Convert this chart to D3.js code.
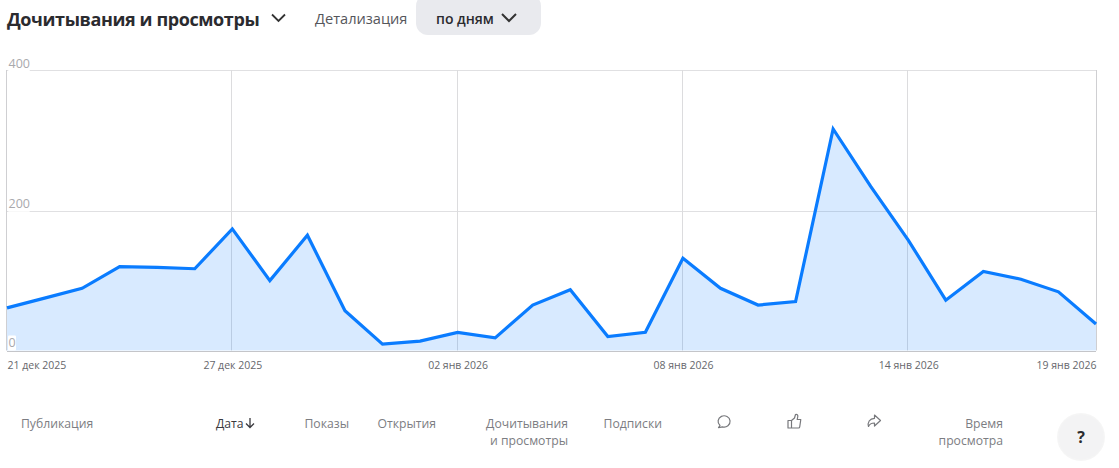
<!DOCTYPE html>
<html lang="ru">
<head>
<meta charset="utf-8">
<script src="https://cdn.jsdelivr.net/npm/d3@7"></script>
<style>
  html, body { margin: 0; background: #fff; }
  svg { display: block; font-family: "Open Sans", "Noto Sans", sans-serif; }
  .hdr { fill: #7c7d82; font-size: 12.2px; }
</style>
</head>
<body>
<svg id="chart" width="1119" height="468"></svg>
<script>
const dates = ["2025-12-21","2025-12-22","2025-12-23","2025-12-24","2025-12-25","2025-12-26","2025-12-27","2025-12-28","2025-12-29","2025-12-30",
  "2025-12-31","2026-01-01","2026-01-02","2026-01-03","2026-01-04","2026-01-05","2026-01-06","2026-01-07","2026-01-08","2026-01-09",
  "2026-01-10","2026-01-11","2026-01-12","2026-01-13","2026-01-14","2026-01-15","2026-01-16","2026-01-17","2026-01-18","2026-01-19"];
const values = [61,75,89,120,119,117,174,100,165,57,9,13.5,26,18,65,87,20,26,132,89,65,70,317,235,158,72,113,102,84,38];
const yTicks = [0,200,400];
const xTicks = ["2025-12-21","2025-12-27","2026-01-02","2026-01-08","2026-01-14","2026-01-19"];
const months = ["янв","фев","мар","апр","май","июн","июл","авг","сен","окт","ноя","дек"];
const columns = [
  {lines:["Публикация"], x:21, anchor:"start"},
  {lines:["Показы"], x:349, anchor:"end"},
  {lines:["Открытия"], x:436, anchor:"end"},
  {lines:["Дочитывания","и просмотры"], x:568, anchor:"end"},
  {lines:["Подписки"], x:662, anchor:"end"},
  {lines:["Время","просмотра"], x:1003, anchor:"end"}
];

const parse = d3.utcParse("%Y-%m-%d");
const fmtDate = d => d3.utcFormat("%d")(d) + " " + months[d.getUTCMonth()] + " " + d.getUTCFullYear();
const points = dates.map((d, i) => ({date: parse(d), value: values[i]}));

const svg = d3.select("#chart");
const left = 7, right = 1096, top_ = 71, bottom = 350.5;

const x = d3.scaleUtc().domain(d3.extent(points, d => d.date)).range([left, right]);
const y = d3.scaleLinear().domain([0, 400]).range([bottom, top_]);

// header
svg.append("text").attr("x", 7).attr("y", 25.5)
  .attr("font-size", 18).attr("font-weight", 700).attr("fill", "#2b2b2f").attr("letter-spacing", -0.4)
  .text("Дочитывания и просмотры");
svg.append("path").attr("d", "M272 14.5l6.5 6.5 6.5-6.5")
  .attr("fill", "none").attr("stroke", "#333").attr("stroke-width", 1.8);
svg.append("text").attr("x", 315).attr("y", 23.5).attr("font-size", 14.6).attr("fill", "#55565b").text("Детализация");
svg.append("rect").attr("x", 416).attr("y", -6).attr("width", 125).attr("height", 41).attr("rx", 12).attr("fill", "#e9eaee");
svg.append("text").attr("x", 436).attr("y", 23.5).attr("font-size", 14).attr("font-weight", 600).attr("fill", "#2b2b2f").text("по дням");
svg.append("path").attr("d", "M502 14l7 7 7-7")
  .attr("fill", "none").attr("stroke", "#333").attr("stroke-width", 2);

// grid
const grid = svg.append("g");
grid.selectAll("line.h").data(yTicks).join("line").attr("class", "h")
  .attr("x1", left).attr("x2", right)
  .attr("y1", d => Math.round(y(d)) + 0.5 - (d === 400 ? 1 : 0)).attr("y2", d => Math.round(y(d)) + 0.5 - (d === 400 ? 1 : 0))
  .attr("stroke", d => d === 0 ? "#c4c5c9" : "#e0e0e2");
grid.selectAll("line.v").data(xTicks).join("line").attr("class", "v")
  .attr("x1", d => Math.round(x(parse(d))) - 0.5 + (d === xTicks[5] ? 1 : 0)).attr("x2", d => Math.round(x(parse(d))) - 0.5 + (d === xTicks[5] ? 1 : 0))
  .attr("y1", top_ - 1).attr("y2", bottom)
  .attr("stroke", d => (d === xTicks[0] || d === xTicks[5]) ? "#cfcfd2" : "#dcdcde");

// area + line
svg.append("path").datum(points)
  .attr("d", d3.area().x(d => x(d.date)).y0(bottom).y1(d => y(d.value)))
  .attr("fill", "#0a7cff").attr("fill-opacity", 0.16);
svg.append("path").datum(points)
  .attr("d", d3.line().x(d => x(d.date)).y(d => y(d.value)))
  .attr("fill", "none").attr("stroke", "#0a7cff").attr("stroke-width", 3.2).attr("stroke-linejoin", "miter");

// y labels on a white patch
const yLabels = svg.append("g").selectAll("g").data(yTicks).join("g")
  .attr("transform", d => `translate(8,${d === 0 ? 342.5 : y(d) - (d === 400 ? 8 : 7)})`);
yLabels.append("rect").attr("x", 0).attr("y", -7).attr("height", 15)
  .attr("width", d => d === 0 ? 8 : 22).attr("fill", "#fff").attr("rx", 1);
yLabels.append("text").attr("x", 0.5).attr("dy", "0.36em").attr("font-size", 12.5).attr("fill", "#a9a9ad").text(d => d);

// x axis
const xAxis = svg.append("g").attr("transform", `translate(0,${bottom})`)
  .call(d3.axisBottom(x).tickValues(xTicks.map(parse)).tickFormat(fmtDate).tickSize(0).tickPadding(0));
xAxis.select(".domain").remove();
xAxis.selectAll("text")
  .attr("y", 18).attr("dy", 0)
  .attr("font-family", "\"Open Sans\", \"Noto Sans\", sans-serif")
  .attr("font-size", 10.5).attr("fill", "#66676c")
  .attr("text-anchor", (d, i) => i === 0 ? "start" : i === xTicks.length - 1 ? "end" : "middle");

// table header
const cols = svg.append("g").selectAll("text").data(columns).join("text")
  .attr("class", "hdr").attr("text-anchor", d => d.anchor);
cols.selectAll("tspan").data(d => d.lines.map(l => ({l, x: d.x}))).join("tspan")
  .attr("x", d => d.x).attr("y", (d, i) => 428 + i * 16.5).text(d => d.l);
svg.append("text").attr("x", 216).attr("y", 428).attr("font-size", 12.2).attr("font-weight", 500)
  .attr("fill", "#3a3a3e").text("Дата");
svg.append("path").attr("d", "M250 418v9.5M246 423.5l4 4 4-4")
  .attr("fill", "none").attr("stroke", "#3a3a3e").attr("stroke-width", 1.3);

// icons: comment, like, share
const icon = svg.append("g").attr("fill", "none").attr("stroke", "#77787c").attr("stroke-width", 1.2).attr("stroke-linejoin", "round");
icon.append("path").attr("d", "M720 425.5 A6 5.6 0 1 1 722.5 426.8 L718.5 427.6 Z");
icon.append("path").attr("d", "M788 420.5h3.5v7.5h-3.5z M791.5 420.5l3-2.5 1-3.5c1.5-.5 2.5 .5 2.3 2l-.6 3h3.6l-1.1 7.5c-.1 .7-.6 1-1.2 1h-7");
icon.append("path").attr("d", "M874.5 415l6 5.5-6 5.5v-3c-2.9 0-5 .9-6 3.5-1.1-4 .9-8 6-8.2z");

// help button
svg.append("circle").attr("cx", 1081).attr("cy", 437).attr("r", 24).attr("fill", "#000").attr("opacity", 0.04);
svg.append("circle").attr("cx", 1081).attr("cy", 437).attr("r", 22.5).attr("fill", "#f3f3f4");
svg.append("text").attr("x", 1081).attr("y", 442.5).attr("text-anchor", "middle")
  .attr("font-size", 16).attr("font-weight", 700).attr("fill", "#2b2b2f").text("?");
</script>
</body>
</html>
